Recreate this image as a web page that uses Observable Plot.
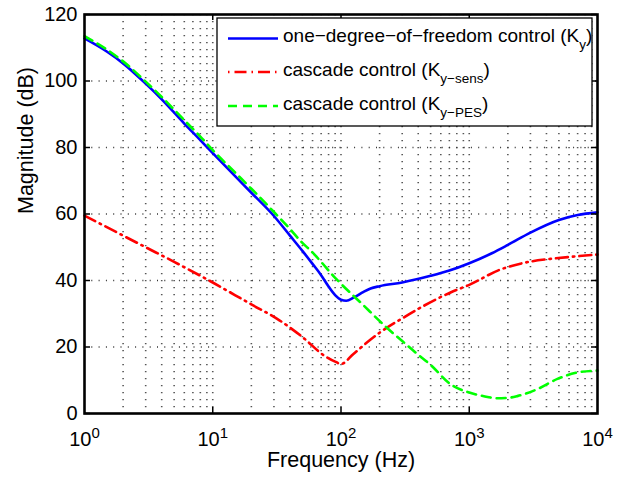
<!DOCTYPE html>
<html><head><meta charset="utf-8">
<script src="https://cdn.jsdelivr.net/npm/d3@7"></script>
<script src="https://cdn.jsdelivr.net/npm/@observablehq/plot@0.6"></script>
<style>
html,body{margin:0;padding:0;background:#fff;}
#wrap{position:relative;width:622px;height:477px;font-family:"Liberation Sans",Arial,Helvetica,sans-serif;}
#legend{position:absolute;left:0;top:0;pointer-events:none;}
</style></head><body><div id="wrap"></div>
<script>
// ---- data ----
const freqKy = [1, 1.5, 2, 3, 4, 6, 8, 10, 15, 20, 30, 40, 50, 60, 70, 80, 90, 100, 110, 126, 150, 170, 200, 300, 500, 700, 1000, 1500, 2000, 3000, 5000, 7000, 10000];
const magKy  = [112.8, 108.8, 105.3, 99.2, 94.5, 87.2, 82.2, 78.3, 71.3, 66.4, 59.4, 53.5, 48.9, 45.0, 41.6, 38.2, 35.6, 34.2, 33.9, 34.9, 36.6, 37.6, 38.3, 39.4, 41.4, 43.0, 45.2, 48.2, 50.7, 54.4, 58.2, 59.7, 60.5];

const freqSens = [1, 2, 3, 5, 10, 20, 32, 50, 74, 90, 100, 125, 160, 200, 309, 443, 714, 1000, 1750, 3000, 4300, 7000, 10000];
const magSens  = [59.5, 53.5, 50.0, 45.6, 39.4, 32.8, 28.4, 23.0, 17.4, 15.6, 14.9, 17.9, 21.4, 24.3, 28.9, 32.4, 36.4, 38.7, 43.3, 45.7, 46.5, 47.3, 47.8];

const freqPES = [1, 1.5, 2, 3, 4, 6, 8, 10, 15, 20, 30, 40, 50, 58, 70, 87, 100, 142, 229, 300, 393, 500, 714, 1000, 1300, 1650, 2000, 2400, 3390, 4870, 6900, 10000];
const magPES  = [113.5, 109.4, 105.9, 99.8, 95.2, 88.2, 83.3, 79.2, 72.4, 67.6, 60.6, 55.5, 51.3, 49.0, 45.6, 41.4, 39.0, 33.4, 25.7, 21.8, 17.9, 14.6, 8.8, 6.3, 5.2, 4.6, 4.7, 5.3, 7.3, 10.4, 12.3, 12.9];

const yTicks  = [0, 20, 40, 60, 80, 100, 120];
const yGrid   = [20, 40, 60, 80, 100];
const xMajor  = [1, 10, 100, 1000, 10000];
const xGrid   = [2,3,4,5,6,7,8,9,10,20,30,40,50,60,70,80,90,100,200,300,400,500,600,700,800,900,1000,2000,3000,4000,5000,6000,7000,8000,9000];
const xLabel  = "Frequency (Hz)";
const yLabel  = "Magnitude (dB)";
const legendMain = ["one\u2212degree\u2212of\u2212freedom control (K", "cascade control (K", "cascade control (K"];
const legendSub  = ["y", "y\u2212sens", "y\u2212PES"];
const colors = ["#0000ff", "#ff0000", "#00ff00"];
const dashes = [null, "12,5,1.5,5", "9,6"];

// ---- build ----
const rows = (fs, ms) => fs.map((f, i) => ({f, m: ms[i]}));
const W = 622, H = 477, ML = 84, MR = 25, MT = 14, MB = 64;
const fw = W - ML - MR, fh = H - MT - MB;
const font = '"Liberation Sans", Arial, Helvetica, sans-serif';

const chart = Plot.plot({
  width: W, height: H,
  marginLeft: ML, marginRight: MR, marginTop: MT, marginBottom: MB,
  style: {fontFamily: font, fontSize: "20px", background: "white", color: "black"},
  x: {type: "log", domain: [1, 10000]},
  y: {domain: [0, 120]},
  marks: [
    Plot.ruleX(xGrid, {x: d => d, stroke: "#555", strokeWidth: 1.6, strokeDasharray: "1.2,5.8"}),
    Plot.ruleY(yGrid, {y: d => d, stroke: "#333", strokeWidth: 1.4, strokeDasharray: "1,6.3"}),
    Plot.line(rows(freqKy, magKy), {x: "f", y: "m", stroke: colors[0], strokeWidth: 2.6, curve: "monotone-x"}),
    Plot.line(rows(freqSens, magSens), {x: "f", y: "m", stroke: colors[1], strokeWidth: 2.6, strokeDasharray: dashes[1], curve: "monotone-x"}),
    Plot.line(rows(freqPES, magPES), {x: "f", y: "m", stroke: colors[2], strokeWidth: 2.6, strokeDasharray: dashes[2], curve: "monotone-x"}),
    Plot.tickX(xMajor.slice(1, -1), {x: d => d, insetTop: fh - 6, stroke: "black", strokeWidth: 1.5}),
    Plot.tickX(xMajor.slice(1, -1), {x: d => d, insetBottom: fh - 6, stroke: "black", strokeWidth: 1.5}),
    Plot.tickY(yTicks, {y: d => d, insetRight: fw - 6, stroke: "black", strokeWidth: 1.5}),
    Plot.tickY(yTicks, {y: d => d, insetLeft: fw - 6, stroke: "black", strokeWidth: 1.5}),
    Plot.frame({stroke: "black", strokeWidth: 2.6}),
    Plot.axisX({ticks: xMajor, tickSize: 0, tickPadding: 18.5, fontSize: 20, label: null,
      tickFormat: d => "10^" + Math.round(Math.log10(d))}),
    Plot.axisY({ticks: yTicks, tickSize: 0, tickPadding: 7, fontSize: 20, label: null}),
    Plot.text([xLabel], {text: d => d, frameAnchor: "bottom", dy: 47, fontSize: 21.5, lineAnchor: "middle"}),
    Plot.text([yLabel], {text: d => d, frameAnchor: "left", rotate: -90, dx: -58, fontSize: 21.5, lineAnchor: "middle"})
  ]
});

const ns = "http://www.w3.org/2000/svg";
chart.querySelectorAll('g[aria-label="x-axis tick label"] text').forEach(t => {
  const [b, e] = t.textContent.split("^");
  t.textContent = b;
  const ts = document.createElementNS(ns, "tspan");
  ts.setAttribute("dy", "-8");
  ts.setAttribute("font-size", "15");
  ts.textContent = e;
  t.appendChild(ts);
});

const wrap = document.getElementById("wrap");
wrap.appendChild(chart);

// ---- legend overlay ----
const leg = d3.select(wrap).append("svg").attr("id", "legend").attr("width", W).attr("height", H)
  .style("font-family", font);
leg.append("rect").attr("x", 217).attr("y", 18).attr("width", 375).attr("height", 108)
  .attr("fill", "white").attr("stroke", "black").attr("stroke-width", 1.3);
const lineY = [38.5, 72, 106];
const baseY = [41.5, 76, 110];
legendMain.forEach((txt, i) => {
  leg.append("line").attr("x1", 228).attr("x2", 278).attr("y1", lineY[i]).attr("y2", lineY[i])
    .attr("stroke", colors[i]).attr("stroke-width", 2.6)
    .attr("stroke-dasharray", i === 1 ? "1.5,5,12,5" : dashes[i]);
  const t = leg.append("text").attr("x", 283).attr("y", baseY[i]).attr("font-size", 19).attr("fill", "black");
  t.append("tspan").text(txt);
  t.append("tspan").attr("dy", 7).attr("font-size", 13.5).text(legendSub[i]);
  t.append("tspan").attr("dy", -7).text(")");
});
</script></body></html>
